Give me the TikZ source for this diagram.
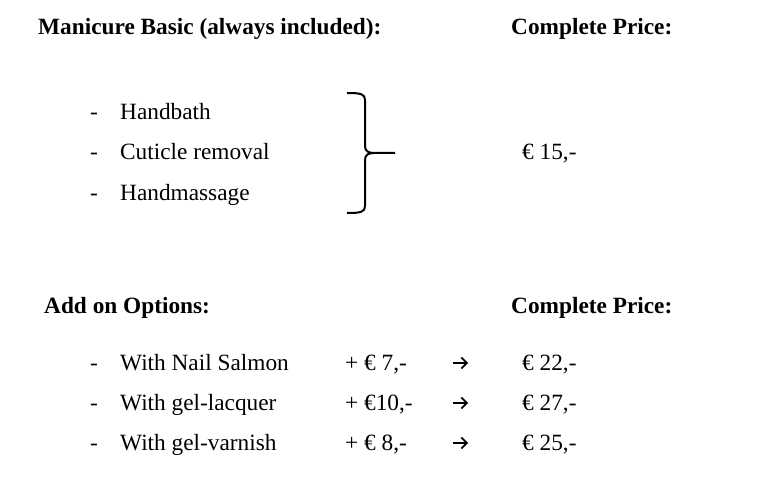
\documentclass[tikz,border=0pt]{standalone}
\usepackage{fontspec}
\setmainfont{Liberation Serif}
\usetikzlibrary{arrows.meta}
\begin{document}
\begin{tikzpicture}[x=1pt,y=-1pt,
  txt/.style={anchor=base west,inner sep=0pt,font=\fontsize{23.3}{28}\selectfont},
  head/.style={txt,font=\fontsize{23.3}{28}\selectfont\bfseries},
  brace/.style={line width=2pt,line cap=butt,line join=round},
  goarrow/.style={line width=1.7pt,-{Straight Barb[length=5.5pt,width=11pt,line width=1.7pt]}}]
\useasboundingbox (0,0) rectangle (763,500);
% section 1
\node[head] (h1) at (38,35) {Manicure Basic (always included):};
\node[head] (cp1) at (511,35) {Complete Price:};
\node[txt] (d1) at (90,120) {-};
\node[txt] (i1) at (120,120) {Handbath};
\node[txt] (d2) at (90,160) {-};
\node[txt] (i2) at (120,160) {Cuticle removal};
\node[txt] (d3) at (90,200) {-};
\node[txt] (i3) at (120,200) {Handmassage};
\node[txt] (p0) at (522,160) {€ 15,-};
\draw[brace] (347,93) .. controls (361,93) and (365,94) .. (365,100) -- (365,146)
  .. controls (365,151) and (368,153) .. (374,153) -- (395,153);
\draw[brace] (374,153) .. controls (368,153) and (365,155) .. (365,160) -- (365,206)
  .. controls (365,212) and (361,213) .. (347,213);
% section 2
\node[head] (h2) at (44,313) {Add on Options:};
\node[head] (cp2) at (511,313) {Complete Price:};
\node[txt] (e1) at (90,370) {-};
\node[txt] (o1) at (120,370) {With Nail Salmon};
\node[txt] (a1) at (345,370) {+ € 7,-};
\node[txt] (r1) at (522,370) {€ 22,-};
\node[txt] (e2) at (90,410) {-};
\node[txt] (o2) at (120,410) {With gel-lacquer};
\node[txt] (a2) at (345,410) {+ €10,-};
\node[txt] (r2) at (522,410) {€ 27,-};
\node[txt] (e3) at (90,450) {-};
\node[txt] (o3) at (120,450) {With gel-varnish};
\node[txt] (a3) at (345,450) {+ € 8,-};
\node[txt] (r3) at (522,450) {€ 25,-};
\coordinate (s1) at (453,363); \coordinate (t1) at (468,363);
\coordinate (s2) at (453,403); \coordinate (t2) at (468,403);
\coordinate (s3) at (453,443); \coordinate (t3) at (468,443);
\draw[goarrow] (s1) -- (t1);
\draw[goarrow] (s2) -- (t2);
\draw[goarrow] (s3) -- (t3);
\end{tikzpicture}
\end{document}
